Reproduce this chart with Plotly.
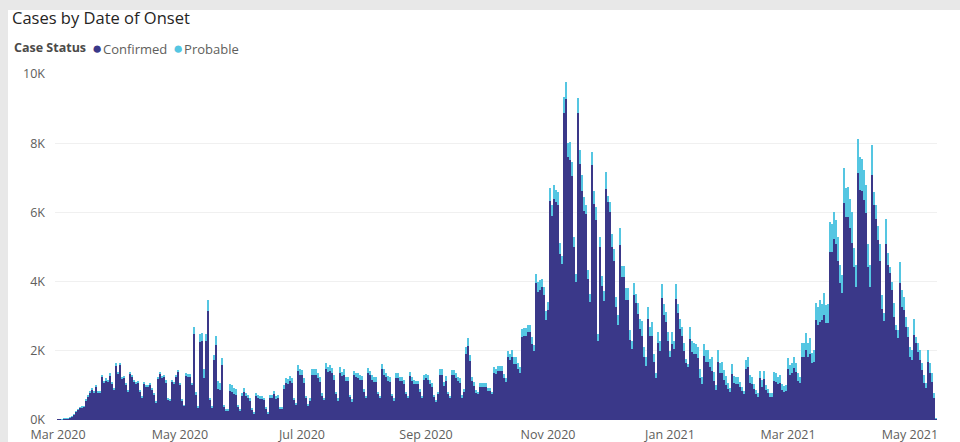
import pandas as pd
import plotly.graph_objects as go

# ---------------- data (daily counts by date of onset) ----------------
start_date = "2020-03-01"

conf_2020_03 = [10, 20, 19, 29, 39, 48, 58, 97, 145, 232, 290, 348, 367, 386, 560, 675, 790, 885, 790, 960,
                790, 790, 1245, 1075, 1150, 1105, 1295, 1055, 885, 1570, 1340]
prob_2020_03 = [0, 0, 1, 1, 1, 2, 2, 3, 5, 8, 10, 12, 13, 14, 20, 25, 30, 35, 30, 40,
                30, 30, 55, 45, 50, 45, 55, 45, 35, 70, 60]

conf_2020_04 = [1590, 1195, 1215, 1015, 835, 1340, 1245, 1120, 1055, 1080, 835, 640, 1050, 955, 955, 1030, 880, 735, 505, 1190,
                1330, 1210, 1235, 1095, 590, 550, 1090, 1045, 1230, 1375]
prob_2020_04 = [70, 55, 55, 45, 35, 60, 55, 50, 45, 50, 35, 30, 50, 45, 45, 50, 40, 35, 25, 60,
                70, 60, 65, 55, 30, 30, 60, 55, 70, 75]

conf_2020_05 = [1020, 565, 405, 1270, 1250, 1250, 1010, 2500, 750, 370, 2250, 2270, 1200, 2270, 3150, 580, 375, 1720, 2170, 900,
                880, 1600, 400, 280, 280, 850, 820, 740, 730, 390, 275]
prob_2020_05 = [60, 35, 25, 80, 80, 80, 70, 200, 50, 30, 250, 250, 260, 230, 320, 40, 25, 160, 260, 240,
                200, 200, 30, 20, 20, 190, 180, 180, 170, 40, 25]

conf_2020_06 = [690, 820, 680, 635, 560, 300, 185, 700, 635, 610, 610, 575, 330, 185, 630, 630, 750, 605, 635, 345,
                345, 900, 1070, 1050, 1130, 1070, 570, 450, 1430, 1310]
prob_2020_06 = [80, 100, 90, 85, 70, 40, 25, 90, 85, 80, 80, 75, 40, 25, 90, 90, 100, 85, 85, 45,
                45, 110, 130, 130, 140, 130, 60, 50, 170, 150]

conf_2020_07 = [1300, 1080, 630, 420, 575, 1310, 1310, 1310, 1210, 1100, 700, 590, 1470, 1380, 1430, 1350, 1170, 750, 575, 1370,
                1260, 1310, 1120, 1120, 655, 545, 1290, 1230, 1215, 1170, 1150]
prob_2020_07 = [150, 120, 60, 40, 55, 150, 150, 150, 140, 130, 70, 60, 170, 160, 160, 150, 130, 70, 55, 150,
                140, 150, 130, 130, 65, 55, 140, 140, 135, 130, 130]

conf_2020_08 = [810, 630, 1350, 1290, 1170, 1110, 1110, 745, 630, 1460, 1310, 1230, 1140, 1110, 680, 575, 1220, 1220, 1130, 1130,
                1050, 745, 630, 1260, 1130, 1050, 1030, 1030, 810, 630, 1170]
prob_2020_08 = [80, 60, 150, 140, 130, 120, 120, 75, 60, 160, 150, 140, 130, 120, 70, 55, 130, 130, 120, 120,
                110, 75, 60, 140, 120, 110, 110, 110, 80, 60, 130]

conf_2020_09 = [1200, 1170, 1050, 960, 660, 530, 750, 1310, 1310, 990, 1140, 740, 630, 1300, 1300, 1210, 1120, 1080, 650, 810,
                1920, 2130, 1700, 1130, 990, 790, 740, 950, 950, 950]
prob_2020_09 = [130, 130, 110, 100, 60, 50, 70, 150, 150, 110, 130, 80, 60, 150, 150, 140, 130, 120, 70, 80,
                200, 230, 180, 120, 110, 80, 80, 110, 110, 110]

conf_2020_10 = [950, 830, 830, 740, 1370, 1330, 1410, 1410, 1410, 1200, 1090, 1810, 1720, 1820, 1630, 1630, 1480, 1370, 2400, 2440,
                2440, 2530, 2530, 2190, 2000, 3950, 3690, 3760, 3830, 3600, 2890]
prob_2020_10 = [110, 90, 90, 80, 150, 140, 160, 160, 160, 130, 120, 190, 180, 200, 180, 180, 160, 150, 230, 220,
                220, 230, 230, 200, 180, 270, 310, 290, 240, 230, 270]

conf_2020_11 = [3180, 6340, 5900, 6390, 6290, 6220, 4800, 4500, 8880, 9270, 7600, 7520, 7060, 5000, 3980, 8860, 7400, 6630, 6050, 5950,
                4070, 3400, 7380, 6240, 5780, 2290, 5000, 3880, 3450, 6680]
prob_2020_11 = [220, 360, 300, 410, 360, 360, 330, 250, 460, 490, 420, 510, 400, 290, 250, 440, 400, 460, 400, 250,
                270, 240, 380, 390, 390, 200, 280, 290, 290, 480]

conf_2020_12 = [6290, 6000, 5000, 4590, 3260, 2760, 5070, 4120, 4120, 3470, 3470, 2310, 2050, 3620, 3370, 3060, 2630, 2440, 1830, 1570,
                2920, 2440, 2440, 1670, 1210, 2240, 2000, 3530, 3040, 2820, 2290]
prob_2020_12 = [190, 290, 380, 350, 300, 280, 480, 340, 340, 340, 340, 290, 240, 330, 270, 310, 290, 430, 270, 240,
                340, 240, 380, 230, 140, 290, 290, 400, 310, 290, 240]

conf_2021_01 = [1810, 2200, 2050, 3500, 3080, 2630, 2440, 2000, 1640, 1520, 2340, 1960, 1900, 1900, 1800, 1200, 1050, 1850, 1690, 1690,
                1520, 1430, 1140, 860, 1690, 1350, 1370, 1160, 1010, 910, 800]
prob_2021_01 = [190, 330, 240, 430, 270, 290, 240, 240, 120, 100, 360, 330, 320, 300, 300, 260, 200, 350, 330, 330,
                230, 400, 260, 150, 330, 290, 320, 290, 260, 150, 120]

conf_2021_02 = [1330, 1060, 1050, 1030, 950, 840, 750, 1460, 1520, 1080, 1030, 890, 750, 670, 1200, 960, 1180, 860, 770, 670,
                670, 1140, 1100, 1040, 1060, 870, 800, 850]
prob_2021_02 = [290, 210, 200, 200, 150, 120, 100, 270, 290, 220, 200, 150, 120, 100, 230, 200, 250, 150, 120, 100,
                100, 260, 250, 210, 240, 170, 180, 160]

conf_2021_03 = [1460, 1300, 1350, 1500, 1400, 1140, 1060, 1830, 1830, 2020, 1830, 1900, 1640, 1690, 2890, 2750, 2840, 2890, 3030, 2790,
                2800, 4870, 4870, 5220, 5100, 4600, 3950, 3660, 6280, 5880, 5860]
prob_2021_03 = [320, 290, 290, 330, 240, 210, 190, 390, 390, 500, 410, 460, 310, 330, 480, 510, 630, 460, 630, 530,
                550, 840, 790, 800, 680, 700, 530, 530, 990, 820, 860]

conf_2021_04 = [5540, 5130, 4430, 3850, 7130, 6650, 6630, 6360, 5970, 4430, 3850, 7080, 6200, 5800, 5200, 4600, 3200, 2850, 5090, 4480,
                4240, 3760, 2990, 2600, 2360, 3950, 3280, 3180, 2700, 2410]
prob_2021_04 = [840, 890, 530, 630, 980, 960, 900, 870, 820, 670, 630, 870, 400, 400, 400, 500, 400, 250, 710, 360,
                190, 240, 380, 150, 240, 630, 480, 380, 290, 290]

conf_2021_05 = [1830, 1730, 2460, 2220, 1970, 1730, 1450, 1060, 920, 1690, 1350, 1110, 630, 30]
prob_2021_05 = [290, 290, 450, 190, 250, 290, 190, 240, 140, 330, 290, 240, 140, 20]

y_tick_values = [0, 2000, 4000, 6000, 8000, 10000]
y_tick_labels = ["0K", "2K", "4K", "6K", "8K", "10K"]

confirmed = (conf_2020_03 + conf_2020_04 + conf_2020_05 + conf_2020_06 + conf_2020_07 + conf_2020_08 +
             conf_2020_09 + conf_2020_10 + conf_2020_11 + conf_2020_12 + conf_2021_01 + conf_2021_02 +
             conf_2021_03 + conf_2021_04 + conf_2021_05)
probable = (prob_2020_03 + prob_2020_04 + prob_2020_05 + prob_2020_06 + prob_2020_07 + prob_2020_08 +
            prob_2020_09 + prob_2020_10 + prob_2020_11 + prob_2020_12 + prob_2021_01 + prob_2021_02 +
            prob_2021_03 + prob_2021_04 + prob_2021_05)
dates = pd.date_range(start_date, periods=len(confirmed), freq="D")

# ---------------- styling ----------------
W, H = 960, 442
ML, MR, MT, MB = 55, 23, 74, 22
PW, PH = W - ML - MR, H - MT - MB

C_CONF = "#3A3889"
C_PROB = "#55C6E2"
TXT = "#605E5C"
FONT = "Open Sans"


def px_x(px):
    return (px - ML) / PW


def px_y(py):
    return (H - MB - py) / PH


fig = go.Figure()
fig.add_trace(go.Bar(x=dates, y=confirmed, name="Confirmed", marker=dict(color=C_CONF, line=dict(width=0))))
fig.add_trace(go.Bar(x=dates, y=probable, name="Probable", marker=dict(color=C_PROB, line=dict(width=0))))

fig.update_layout(
    width=W, height=H,
    margin=dict(l=ML, r=MR, t=MT, b=MB, autoexpand=False),
    barmode="stack", bargap=0.3,
    showlegend=False,
    paper_bgcolor="white", plot_bgcolor="white",
    font=dict(family=FONT, color=TXT, size=13),
    title=dict(text="Cases by Date of Onset", x=12 / W, xanchor="left", xref="container",
               y=1 - 18 / H, yanchor="middle", yref="container",
               font=dict(family=FONT, size=16.5, color="#252423")),
    xaxis=dict(type="date", range=["2020-02-28 12:00", "2021-05-14 12:00"],
               tick0="2020-03-01", dtick="M2", tickformat="%b %Y", automargin=False,
               showgrid=False, zeroline=False, showline=False, ticks="", ticklabelstandoff=5,
               tickfont=dict(size=12.5, color=TXT)),
    yaxis=dict(range=[0, 10000], tickvals=y_tick_values, ticktext=y_tick_labels, automargin=False,
               showgrid=True, gridcolor="#F0F0F0", gridwidth=1, zeroline=False, showline=False,
               ticks="", ticklabelstandoff=9, tickfont=dict(size=12.5, color=TXT)),
    shapes=[
        dict(type="rect", xref="paper", yref="paper", x0=px_x(0), x1=px_x(W), y0=px_y(10), y1=px_y(0),
             fillcolor="#E8E8E8", line=dict(width=0), layer="below"),
        dict(type="rect", xref="paper", yref="paper", x0=px_x(0), x1=px_x(8), y0=px_y(H), y1=px_y(10),
             fillcolor="#E8E8E8", line=dict(width=0), layer="below"),
    ],
    annotations=[
        dict(text="<b>Case Status</b>", xref="paper", yref="paper", x=px_x(12), y=px_y(47),
             xanchor="left", yanchor="middle", showarrow=False, font=dict(size=12.5, color="#4B4A48")),
        dict(text=f"<span style='color:{C_CONF};font-size:17px'>●</span><span style='font-size:3px'> </span>Confirmed",
             xref="paper", yref="paper", x=px_x(90), y=px_y(47), xanchor="left", yanchor="middle",
             showarrow=False, font=dict(size=13, color=TXT)),
        dict(text=f"<span style='color:{C_PROB};font-size:17px'>●</span><span style='font-size:3px'> </span>Probable",
             xref="paper", yref="paper", x=px_x(171), y=px_y(47), xanchor="left", yanchor="middle",
             showarrow=False, font=dict(size=13, color=TXT)),
    ],
)

fig.write_html("out.html")
